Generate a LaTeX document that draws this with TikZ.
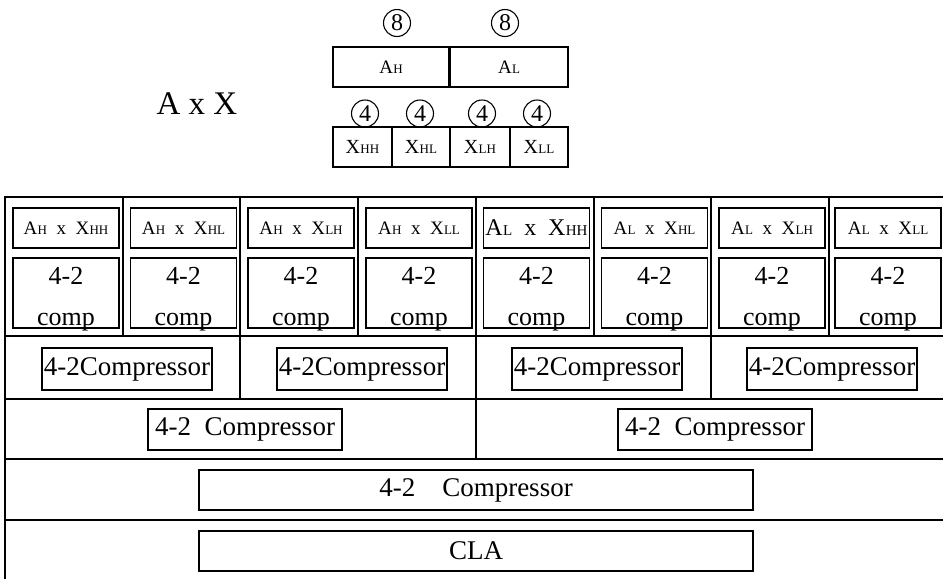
\documentclass[tikz,border=0pt]{standalone}
\usepackage{fontspec}
\setmainfont{Liberation Serif}
% letter followed by small capital index letters, e.g. A_H written as "AH"
\newcommand\capidx[3]{#2\kern0.3pt{\fontsize{#1}{#1}\selectfont #3}}
\newcommand\fsz[1]{\fontsize{#1}{#1}\selectfont}
\begin{document}
\begin{tikzpicture}[x=1pt,y=-1pt,
  frame/.style={line width=1.2pt},
  blk/.style={draw,line width=1.2pt,rectangle,inner sep=0pt},
  cnum/.style={draw,circle,line width=1.1pt,minimum size=27pt,inner sep=0pt,font=\fsz{24}},
  prod/.style={blk,minimum width=106pt,minimum height=40pt,font=\fsz{19}},
  cmp/.style={blk,minimum width=106pt,minimum height=70pt},
  cmpA/.style={blk,minimum width=170pt,minimum height=42pt,font=\fsz{27}},
  cmpB/.style={blk,minimum width=194pt,minimum height=41pt,font=\fsz{27}},
  wide/.style={blk,minimum width=554pt,minimum height=40pt,font=\fsz{27}}]
\useasboundingbox (0,0) rectangle (943,579);

% ---- operand split ----
\node[font=\fsz{33}] (axx) at (197,104) {A x X};
\node[blk,minimum width=116pt,minimum height=40pt,font=\fsz{19}] (ah) at (391,67) {\capidx{13}{A}{H}};
\node[blk,minimum width=118pt,minimum height=40pt,font=\fsz{19}] (al) at (509,67) {\capidx{13}{A}{L}};
\node[cnum] (c8a) at (397,23) {8};
\node[cnum] (c8b) at (505,23) {8};
\foreach \cx/\w/\nm/\s in {362.5/59/xhh/HH, 421/58/xhl/HL, 480/60/xlh/LH, 539/58/xll/LL}{
  \node[blk,minimum width=\w pt,minimum height=40pt,font=\fsz{20}] (\nm) at (\cx,147) {\capidx{13}{X}{\s}};
}
\foreach \cx/\nm in {365/c4a, 420/c4b, 482/c4c, 537/c4d}{
  \node[cnum] (\nm) at (\cx,113.5) {4};
}

% ---- array frame ----
\draw[frame] (5,579) -- (5,197) -- (943,197);
\foreach \yy in {336,399,459,520}{ \draw[frame] (5,\yy) -- (943,\yy); }
\foreach \xx in {123,240,358,476,594,711,829}{ \draw[frame] (\xx,197) -- (\xx,336); }
\foreach \xx in {240,476,711}{ \draw[frame] (\xx,336) -- (\xx,399); }
\draw[frame] (476,399) -- (476,459);

% ---- partial products and first compressor level ----
\foreach \i/\cx/\a/\s in {1/66/H/HH, 2/183.5/H/HL, 3/301/H/LH, 4/419/H/LL, 6/654.5/L/HL, 7/772/L/LH, 8/888/L/LL}{
  \node[prod] (p\i) at (\cx,228) {\capidx{13}{A}{\a}\ \ x\ \ \capidx{13}{X}{\s}};
  \node[cmp] (k\i) at (\cx,293) {};
  \node[font=\fsz{26},anchor=base] (k\i a) at (\cx,284) {4-2};
  \node[font=\fsz{26},anchor=base] (k\i b) at (\cx,325) {comp};
}
\node[prod,font=\fsz{24}] (p5) at (536.5,228) {\capidx{15}{A}{L}\ \ x\ \ \capidx{15}{X}{HH}};
\node[cmp] (k5) at (536.5,293) {};
\node[font=\fsz{26},anchor=base] (k5a) at (536.5,284) {4-2};
\node[font=\fsz{26},anchor=base] (k5b) at (536.5,325) {comp};

% ---- compressor tree ----
\node[cmpA] (r3a) at (127,369) {4-2Compressor};
\node[cmpA] (r3b) at (362,369) {4-2Compressor};
\node[cmpA] (r3c) at (597,369) {4-2Compressor};
\node[cmpA] (r3d) at (832,369) {4-2Compressor};
\node[cmpB] (r4a) at (245,429.5) {4-2\ \ Compressor};
\node[cmpB] (r4b) at (715,429.5) {4-2\ \ Compressor};
\node[wide] (r5) at (476,490) {4-2\quad Compressor};
\node[wide] (cla) at (476,551) {CLA};
\end{tikzpicture}
\end{document}
